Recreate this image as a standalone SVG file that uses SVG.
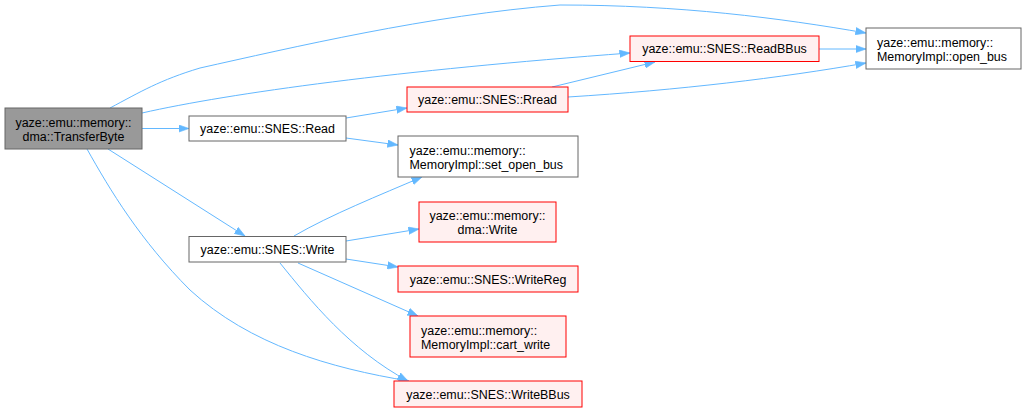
<svg xmlns="http://www.w3.org/2000/svg" width="1026" height="412" viewBox="0 0 1026 412">
<style>
text{font-family:"Liberation Sans",Arial,Helvetica,sans-serif;font-size:12.45px;fill:#000}
.c{text-anchor:middle}
.l{text-anchor:start}
.g{fill:#999999;stroke:#666666;stroke-width:1}
.w{fill:#ffffff;stroke:#666666;stroke-width:1}
.r{fill:#fff0f0;stroke:#ff0000;stroke-width:1}
.e{fill:none;stroke:#63b8ff;stroke-width:1;marker-end:url(#ah)}
</style>
<defs>
<marker id="ah" markerUnits="userSpaceOnUse" markerWidth="11" markerHeight="8" refX="10.5" refY="4" orient="auto">
<path d="M0,0.3 L10.5,4 L0,7.7 z" fill="#63b8ff" stroke="#63b8ff" stroke-width="0.6"/>
</marker>
</defs>
<rect width="1026" height="412" fill="#ffffff"/>
<g id="connectors">
<path class="e" d="M110,108 C140,92 160,80 200,68 C290,48 430,15 560,5 C680,5 780,18 866,33"/>
<path class="e" d="M142,113 C230,93 400,70 630,53"/>
<path class="e" d="M142,128.5 L189,128.5"/>
<path class="e" d="M108,149 L245,236"/>
<path class="e" d="M87,149 C110,190 140,240 190,290 C250,345 330,368 409,381"/>
<path class="e" d="M346,118 L407,108"/>
<path class="e" d="M346,138 L398,145"/>
<path class="e" d="M552,87 L655,62"/>
<path class="e" d="M568,97 C680,90 780,78 866,63"/>
<path class="e" d="M819,49 L866,49"/>
<path class="e" d="M294,236 C330,215 380,195 422,177"/>
<path class="e" d="M346,241 L419,229"/>
<path class="e" d="M346,259 L398,267"/>
<path class="e" d="M298,263 L418,316"/>
<path class="e" d="M280,263 C310,300 350,350 408,381"/>
</g>
<g id="TransferByte">
<rect class="g" x="5" y="108" width="137" height="41"/>
<text class="c" x="73.5" y="126.5">yaze::emu::memory::</text>
<text class="c" x="73.5" y="140.5">dma::TransferByte</text>
</g>
<g id="Read">
<rect class="w" x="189" y="116" width="157" height="25"/>
<text class="c" x="267.5" y="133">yaze::emu::SNES::Read</text>
</g>
<g id="Write">
<rect class="w" x="189" y="236.5" width="157" height="25.5"/>
<text class="c" x="267.5" y="253.5">yaze::emu::SNES::Write</text>
</g>
<g id="Rread">
<rect class="r" x="407" y="87" width="161" height="25"/>
<text class="c" x="487.5" y="104">yaze::emu::SNES::Rread</text>
</g>
<g id="ReadBBus">
<rect class="r" x="630" y="36" width="189" height="25.5"/>
<text class="c" x="724.5" y="53">yaze::emu::SNES::ReadBBus</text>
</g>
<g id="open_bus">
<rect class="w" x="866" y="28" width="155" height="41"/>
<text class="l" x="877" y="46.5">yaze::emu::memory::</text>
<text class="l" x="877" y="60.5">MemoryImpl::open_bus</text>
</g>
<g id="set_open_bus">
<rect class="w" x="398" y="136" width="180" height="41"/>
<text class="l" x="409.5" y="154.5">yaze::emu::memory::</text>
<text class="l" x="409.5" y="168.5">MemoryImpl::set_open_bus</text>
</g>
<g id="dma_Write">
<rect class="r" x="419" y="202" width="137" height="40"/>
<text class="c" x="487.5" y="220">yaze::emu::memory::</text>
<text class="c" x="487.5" y="234">dma::Write</text>
</g>
<g id="WriteReg">
<rect class="r" x="398" y="266" width="180" height="26"/>
<text class="c" x="488" y="283.5">yaze::emu::SNES::WriteReg</text>
</g>
<g id="cart_write">
<rect class="r" x="410" y="316" width="156" height="41"/>
<text class="l" x="421" y="334.5">yaze::emu::memory::</text>
<text class="l" x="421" y="348.5">MemoryImpl::cart_write</text>
</g>
<g id="WriteBBus">
<rect class="r" x="394" y="381" width="188" height="26"/>
<text class="c" x="488" y="398.5">yaze::emu::SNES::WriteBBus</text>
</g>
</svg>
